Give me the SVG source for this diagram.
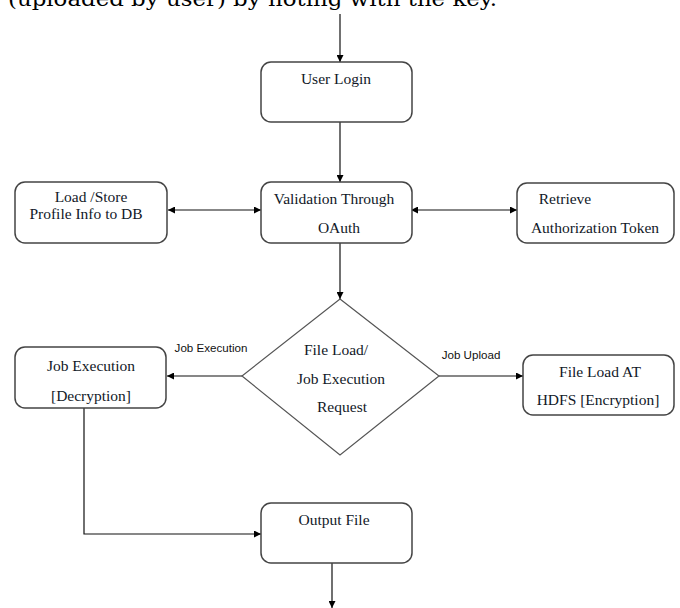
<svg xmlns="http://www.w3.org/2000/svg" width="680" height="608" viewBox="0 0 680 608">
<defs>
<marker id="ah" viewBox="0 0 10 10" refX="10" refY="5" markerWidth="7" markerHeight="7" markerUnits="userSpaceOnUse" orient="auto-start-reverse">
<path d="M0,0 L10,5 L0,10 z" fill="#000"/>
</marker>
<style>
.box{fill:#fff;stroke:#444;stroke-width:1.5}
.dia{fill:#fff;stroke:#555;stroke-width:1.2}
.t{font-family:"Liberation Serif","Times New Roman",serif;font-size:15.5px;fill:#111827;text-anchor:middle}
.lb{font-family:"Liberation Sans",Arial,sans-serif;font-size:11.6px;fill:#111;text-anchor:middle}
.c{fill:none;stroke:#111;stroke-width:1.2}
</style>
</defs>
<rect width="680" height="608" fill="#fff"/>
<text x="8" y="6" font-family="'DejaVu Serif','Liberation Serif',serif" font-size="21" textLength="489" lengthAdjust="spacingAndGlyphs" fill="#000">(uploaded by user) by noting with the key.</text>
<g id="connectors">
<line class="c" x1="340" y1="14" x2="340" y2="62" marker-end="url(#ah)"/>
<line class="c" x1="340" y1="122" x2="340" y2="182" marker-end="url(#ah)"/>
<line class="c" x1="168" y1="210" x2="261" y2="210" marker-start="url(#ah)" marker-end="url(#ah)"/>
<line class="c" x1="411" y1="210" x2="517" y2="210" marker-start="url(#ah)" marker-end="url(#ah)"/>
<line class="c" x1="340" y1="243" x2="340" y2="299" marker-end="url(#ah)"/>
<line class="c" x1="242" y1="376" x2="167" y2="376" marker-end="url(#ah)"/>
<line class="c" x1="439" y1="376" x2="523" y2="376" marker-end="url(#ah)"/>
<polyline class="c" points="84,408 84,534 261,534" marker-end="url(#ah)"/>
<line class="c" x1="332" y1="563" x2="332" y2="608" marker-end="url(#ah)"/>
<text class="lb" x="211" y="352">Job Execution</text>
<text class="lb" x="471" y="359">Job Upload</text>
</g>
<g id="user-login">
<rect class="box" x="261" y="62" width="151" height="60" rx="10"/>
<text class="t" x="336" y="84">User Login</text>
</g>
<g id="validation">
<rect class="box" x="261" y="182" width="151" height="61" rx="10"/>
<text class="t" x="334" y="204">Validation Through</text>
<text class="t" x="339" y="233">OAuth</text>
</g>
<g id="load-store">
<rect class="box" x="15" y="182" width="152" height="61" rx="10"/>
<text class="t" x="91" y="202">Load /Store</text>
<text class="t" x="86" y="219">Profile Info to DB</text>
</g>
<g id="retrieve">
<rect class="box" x="517" y="183" width="157" height="60" rx="10"/>
<text class="t" x="565" y="204">Retrieve</text>
<text class="t" x="595" y="233">Authorization Token</text>
</g>
<g id="decision">
<polygon class="dia" points="340,299 439,376 340,455 242,376"/>
<text class="t" x="336" y="355">File Load/</text>
<text class="t" x="341" y="384">Job Execution</text>
<text class="t" x="342" y="412">Request</text>
</g>
<g id="job-execution">
<rect class="box" x="15" y="347" width="151" height="61" rx="10"/>
<text class="t" x="91" y="371">Job Execution</text>
<text class="t" x="91" y="401">[Decryption]</text>
</g>
<g id="file-load">
<rect class="box" x="523" y="355" width="151" height="60" rx="10"/>
<text class="t" x="600" y="377">File Load AT</text>
<text class="t" x="598" y="405">HDFS [Encryption]</text>
</g>
<g id="output-file">
<rect class="box" x="261" y="503" width="151" height="60" rx="10"/>
<text class="t" x="334" y="525">Output File</text>
</g>
</svg>
